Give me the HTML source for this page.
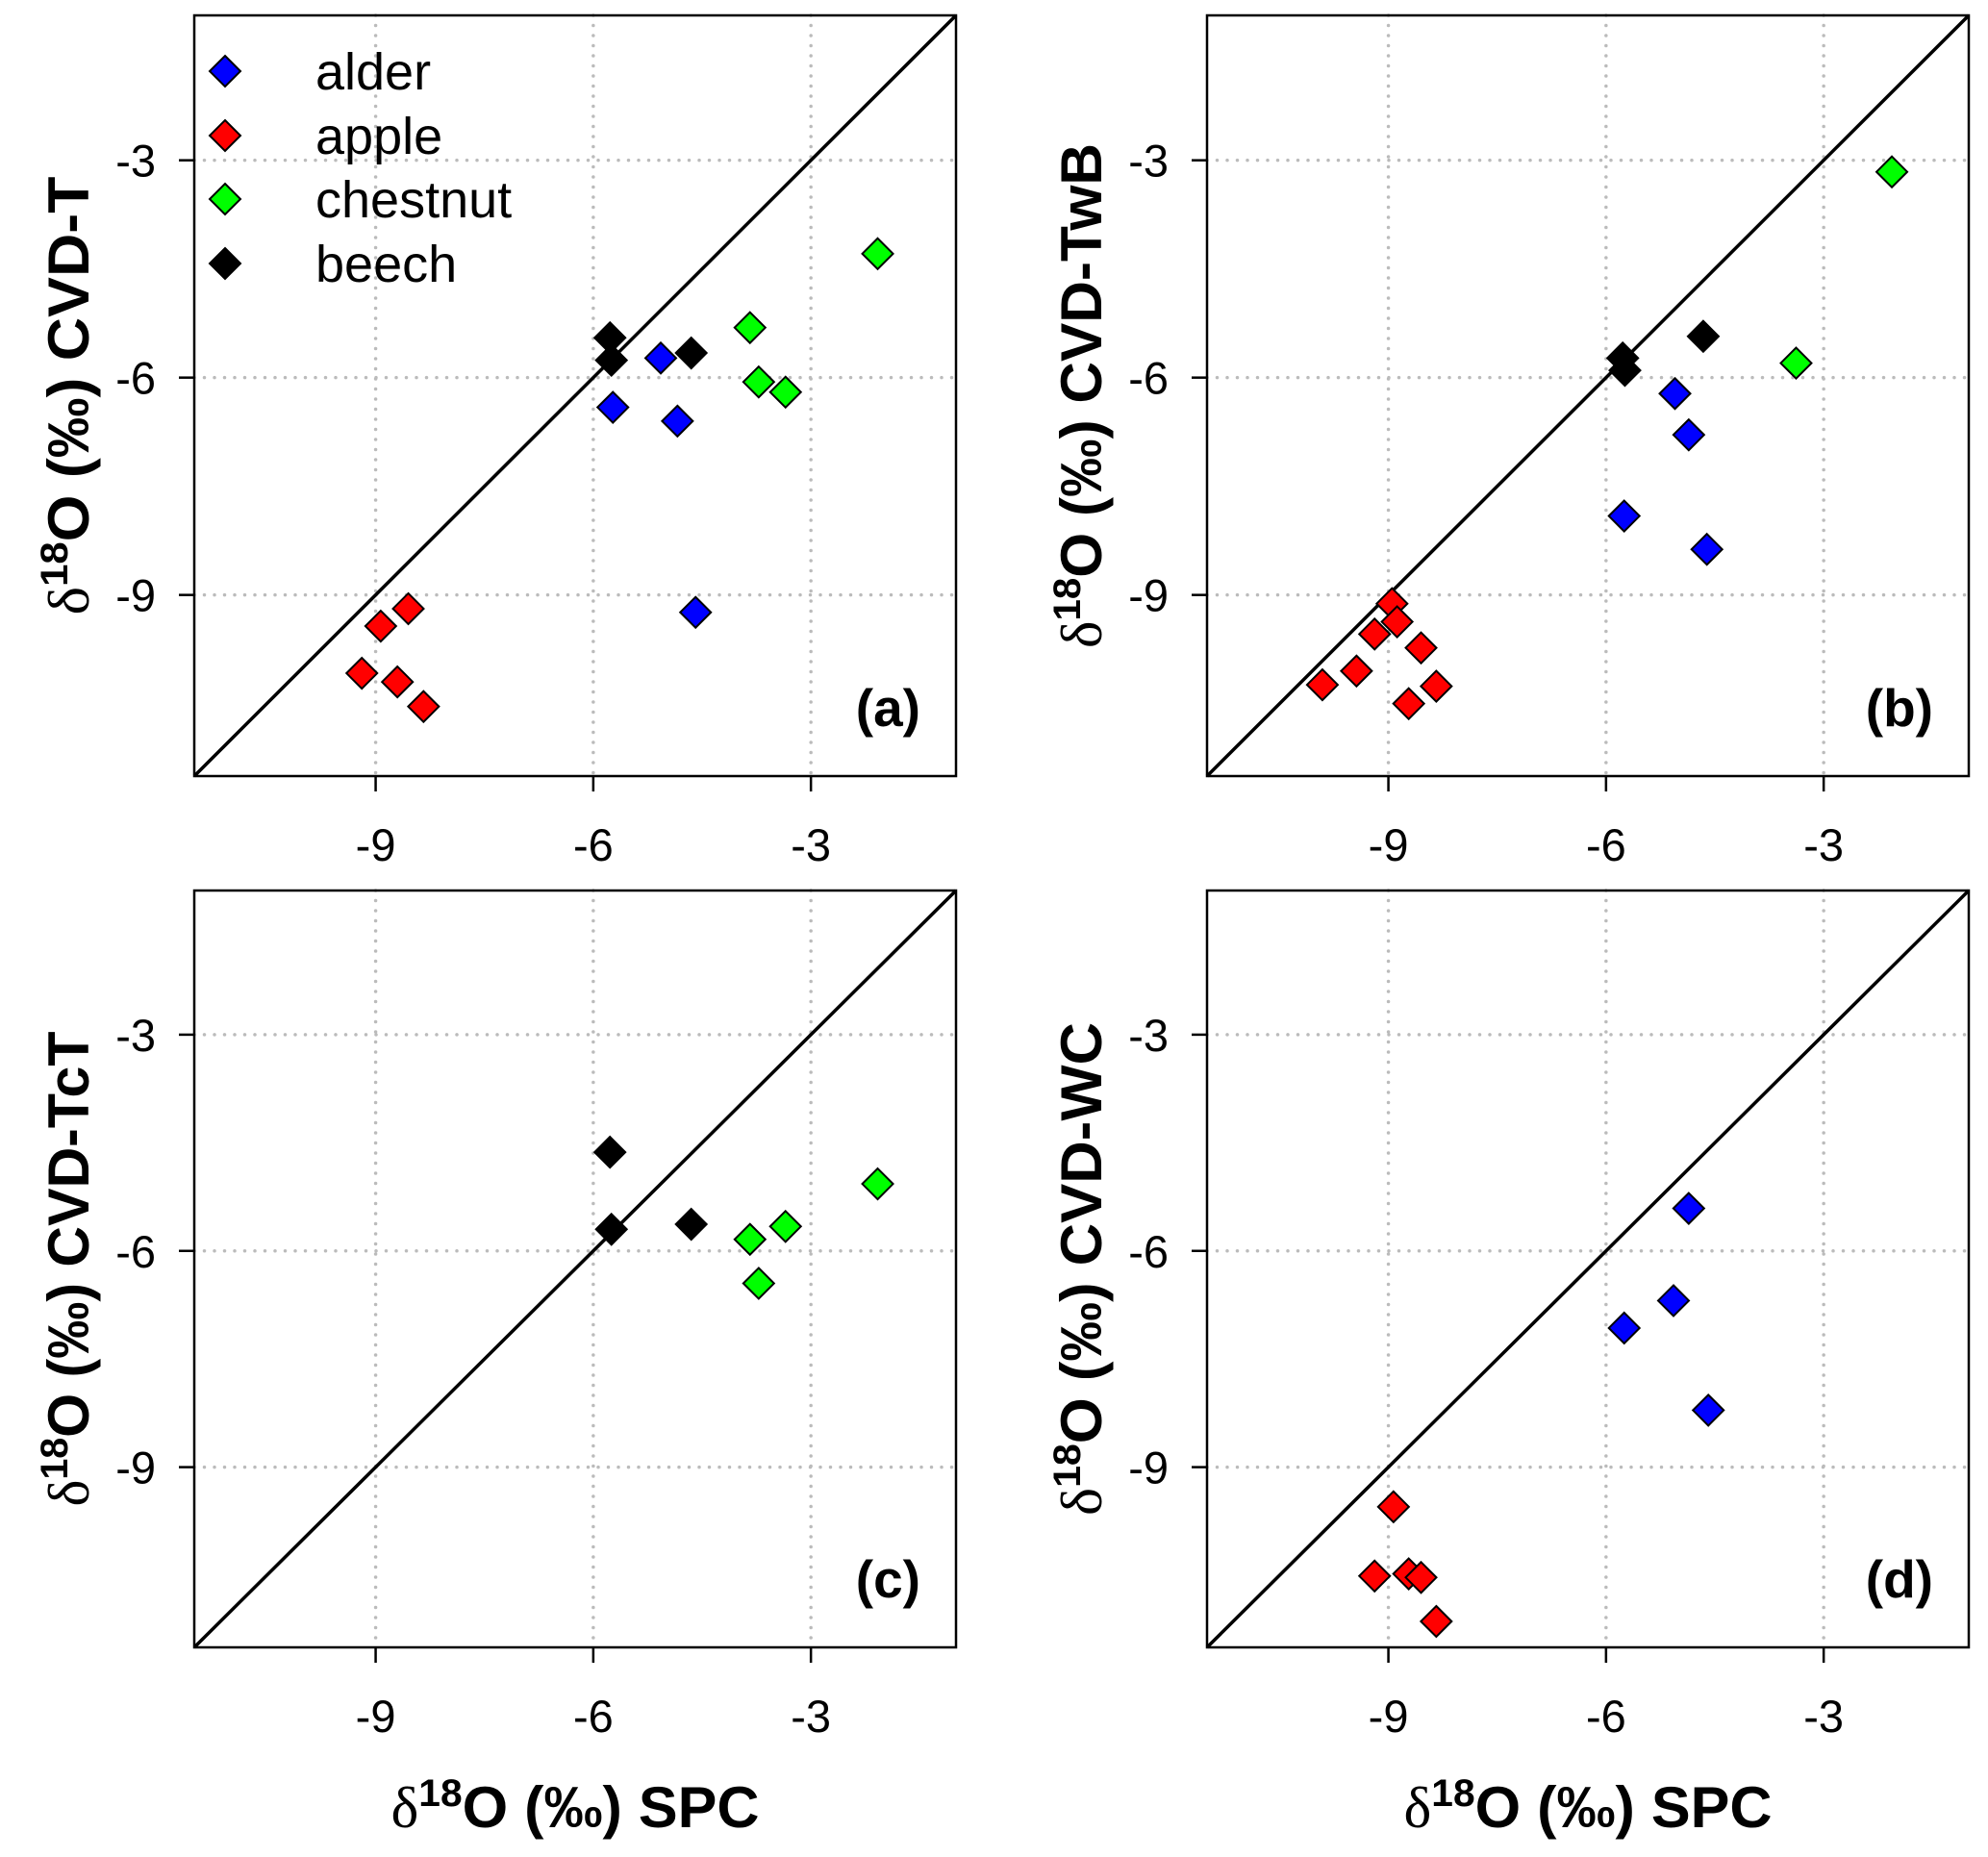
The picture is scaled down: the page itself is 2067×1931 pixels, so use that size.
<!DOCTYPE html>
<html><head><meta charset="utf-8"><style>
html,body{margin:0;padding:0;background:#fff}
svg{display:block}
text{font-family:"Liberation Sans",Arial,sans-serif}
</style></head><body>
<svg id="fig" width="2067" height="1931" viewBox="0 0 2067 1931" xmlns="http://www.w3.org/2000/svg"></svg>
<script>
const ticks = [-9, -6, -3];
const tickLabels = ['-9', '-6', '-3'];
const speciesNames = ['alder', 'apple', 'chestnut', 'beech'];
const speciesColors = ['#0000ff', '#ff0000', '#00ff00', '#000000'];
// panel a (CVD-T)
const aAlderX = [-5.07, -5.73, -4.84, -4.59];
const aAlderY = [-5.73, -6.41, -6.60, -9.24];
const aAppleX = [-8.93, -8.55, -9.19, -8.70, -8.34];
const aAppleY = [-9.43, -9.19, -10.08, -10.20, -10.54];
const aChestX = [-2.08, -3.84, -3.72, -3.35];
const aChestY = [-4.29, -5.31, -6.06, -6.20];
const aBeechX = [-5.77, -5.75, -4.65];
const aBeechY = [-5.45, -5.76, -5.66];
// panel b (CVD-TwB)
const bAlderX = [-5.05, -4.86, -5.75, -4.61];
const bAlderY = [-6.22, -6.79, -7.91, -8.37];
const bAppleX = [-8.95, -9.19, -8.88, -8.55, -9.44, -9.91, -8.72, -8.34];
const bAppleY = [-9.12, -9.54, -9.37, -9.73, -10.05, -10.24, -10.50, -10.26];
const bChestX = [-2.06, -3.38];
const bChestY = [-3.16, -5.80];
const bBeechX = [-5.77, -5.74, -4.66];
const bBeechY = [-5.73, -5.90, -5.43];
// panel c (CVD-TcT)
const cChestX = [-2.08, -3.84, -3.35, -3.72];
const cChestY = [-5.07, -5.84, -5.66, -6.45];
const cBeechX = [-5.77, -5.75, -4.65];
const cBeechY = [-4.63, -5.70, -5.63];
// panel d (CVD-WC)
const dAlderX = [-4.86, -5.07, -5.75, -4.59];
const dAlderY = [-5.41, -6.69, -7.07, -8.21];
const dAppleX = [-8.93, -9.19, -8.72, -8.55, -8.34];
const dAppleY = [-9.55, -10.51, -10.48, -10.53, -11.14];

const NS = 'http://www.w3.org/2000/svg';
const svg = document.getElementById('fig');
const DMIN = -11.5, DMAX = -1.0;
function mk(tag, attrs, parent) {
  const e = document.createElementNS(NS, tag);
  for (const k in attrs) e.setAttribute(k, attrs[k]);
  (parent || svg).appendChild(e);
  return e;
}
function diamond(parent, cx, cy, r, fill) {
  return mk('polygon', {points: `${cx},${cy-r} ${cx+r},${cy} ${cx},${cy+r} ${cx-r},${cy}`, fill: fill, stroke: '#000', 'stroke-width': 2}, parent);
}
const panels = [
  {id:'a', x0:202, x1:994, y0:16, y1:807, title:'CVD-T', tl:456, series:[[aAlderX,aAlderY,0],[aAppleX,aAppleY,1],[aChestX,aChestY,2],[aBeechX,aBeechY,3]], legend:true, xt:false},
  {id:'b', x0:1255, x1:2047, y0:16, y1:807, title:'CVD-TwB', tl:525, series:[[bAlderX,bAlderY,0],[bAppleX,bAppleY,1],[bChestX,bChestY,2],[bBeechX,bBeechY,3]], legend:false, xt:false},
  {id:'c', x0:202, x1:994, y0:926, y1:1713, title:'CVD-TcT', tl:494, series:[[cChestX,cChestY,2],[cBeechX,cBeechY,3]], legend:false, xt:true},
  {id:'d', x0:1255, x1:2047, y0:926, y1:1713, title:'CVD-WC', tl:513, series:[[dAlderX,dAlderY,0],[dAppleX,dAppleY,1]], legend:false, xt:true}
];
panels.forEach(P => {
  const g = mk('g', {});
  
  
  const sx = v => P.x0 + (v - DMIN) / (DMAX - DMIN) * (P.x1 - P.x0);
  const sy = v => P.y1 - (v - DMIN) / (DMAX - DMIN) * (P.y1 - P.y0);
  ticks.forEach((t, i) => {
    const gx = mk('line', {x1:sx(t), x2:sx(t), y1:P.y0, y2:P.y1, stroke:'#bbb', 'stroke-width':3.5, 'stroke-dasharray':'0 10.5', 'stroke-linecap':'round'}, g);
    
    
    const gy = mk('line', {x1:P.x0, x2:P.x1, y1:sy(t), y2:sy(t), stroke:'#bbb', 'stroke-width':3.5, 'stroke-dasharray':'0 10.5', 'stroke-linecap':'round'}, g);
    
    
    mk('line', {x1:sx(t), x2:sx(t), y1:P.y1, y2:P.y1+16, stroke:'#000', 'stroke-width':2.5}, g);
    mk('line', {x1:P.x0, x2:P.x0-16, y1:sy(t), y2:sy(t), stroke:'#000', 'stroke-width':2.5}, g);
    const xl = mk('text', {x:sx(t), y:P.y1+88, 'text-anchor':'middle', 'font-size':47}, g);
    xl.textContent = tickLabels[i];
    
    
    const yl = mk('text', {x:P.x0-40, y:sy(t)+17, 'text-anchor':'end', 'font-size':47}, g);
    yl.textContent = tickLabels[i];
    
    
  });
  const d = mk('line', {x1:sx(DMIN), y1:sy(DMIN), x2:sx(DMAX), y2:sy(DMAX), stroke:'#000', 'stroke-width':3.5}, g);
  
  
  const fr = mk('rect', {x:P.x0, y:P.y0, width:P.x1-P.x0, height:P.y1-P.y0, fill:'none', stroke:'#000', 'stroke-width':2.5}, g);
  
  
  P.series.forEach(s => {
    const [xs, ys, k] = s;
    xs.forEach((xv, j) => {
      const m = diamond(g, sx(xv), sy(ys[j]), 16, speciesColors[k]);
      
      
    });
  });
  const pl = mk('text', {x:P.x1-37, y:P.y1-52, 'text-anchor':'end', 'font-size':55, 'font-weight':'bold'}, g);
  pl.textContent = '(' + P.id + ')';
  
  
  const yc = (P.y0 + P.y1) / 2;
  const bx = P.x0 - 110;
  const yt = mk('text', {x:0, y:0, transform:`translate(${bx},${yc}) rotate(-90)`, 'text-anchor':'middle', 'font-size':60, 'font-weight':'bold', textLength:P.tl, lengthAdjust:'spacingAndGlyphs'}, g);
  yt.innerHTML = '<tspan font-family="Liberation Serif" font-weight="normal">δ</tspan><tspan dy="-22" font-size="40">18</tspan><tspan dy="22">O (‰) ' + P.title + '</tspan>';
  
  
  if (P.xt) {
    const xtt = mk('text', {x:(P.x0+P.x1)/2, y:1900, 'text-anchor':'middle', 'font-size':60, 'font-weight':'bold', textLength:383, lengthAdjust:'spacingAndGlyphs'}, g);
    xtt.innerHTML = '<tspan font-family="Liberation Serif" font-weight="normal">δ</tspan><tspan dy="-22" font-size="40">18</tspan><tspan dy="22">O (‰) SPC</tspan>';
    
    
  }
  if (P.legend) {
    const lg = mk('g', {}, g);
    
    
    const ly = [74, 141, 207, 274];
    speciesNames.forEach((n, k) => {
      const m = diamond(lg, 234, ly[k], 16, speciesColors[k]);
      
      
      const t = mk('text', {x:328, y:ly[k]+19, 'font-size':54}, lg);
      t.textContent = n;
      
      
    });
  }
});
</script>
</body></html>
